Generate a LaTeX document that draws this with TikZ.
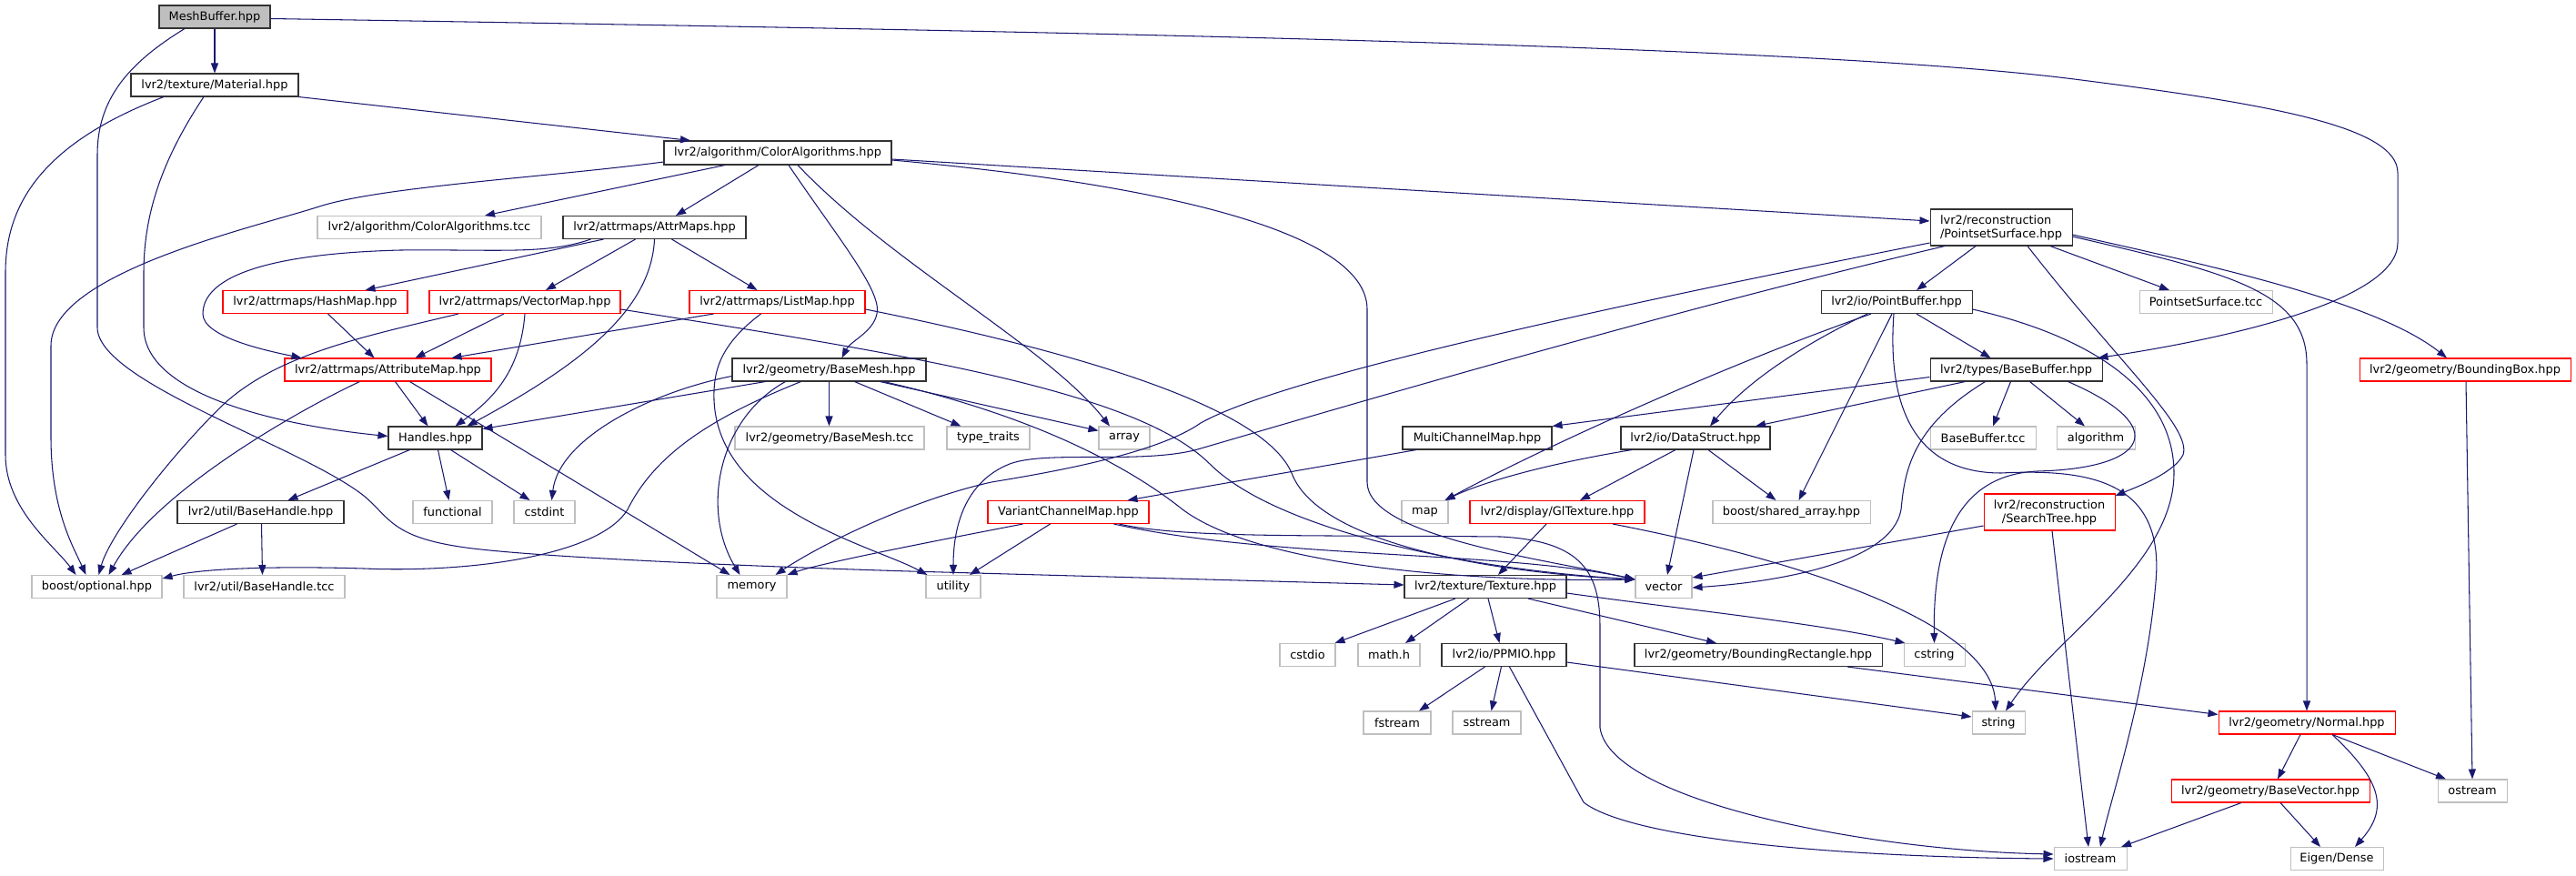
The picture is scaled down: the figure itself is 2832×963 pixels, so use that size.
\documentclass[tikz,border=0pt]{standalone}
\usepackage{fontspec}
\setmainfont{DejaVu Sans}
\usetikzlibrary{arrows.meta}
\definecolor{edgec}{HTML}{191970}
\definecolor{grayb}{HTML}{BFBFBF}
\definecolor{rootf}{HTML}{BFBFBF}
\definecolor{blackb}{HTML}{333333}
\begin{document}
\begin{tikzpicture}[x=1pt,y=-1pt,
 nbox/.style={draw, line width=1.05pt, inner sep=0pt, minimum height=25pt, font=\fontsize{12.9}{15}\selectfont, fill=white},
 nblack/.style={nbox, draw=blackb},
 ngray/.style={nbox, draw=grayb},
 nred/.style={nbox, draw=red},
 nroot/.style={nbox, draw=blackb, fill=rootf},
 dep/.style={draw=edgec, line width=1.05pt, -{Triangle[length=11pt,width=8pt]}}]
\fill[white] (0,0) rectangle (2832,963);
\useasboundingbox (0,0) rectangle (2832,963);
% nodes
\node[nroot, minimum width=122pt] (mb) at (236,18.5) {MeshBuffer.hpp};
\node[nblack, minimum width=184pt] (mat) at (236,93.5) {lvr2/texture/Material.hpp};
\node[nblack, minimum width=250pt, minimum height=26pt] (ca) at (855,168) {lvr2/algorithm/ColorAlgorithms.hpp};
\node[ngray, minimum width=246pt] (catcc) at (472,250) {lvr2/algorithm/ColorAlgorithms.tcc};
\node[nblack, minimum width=201pt] (am) at (719.5,250) {lvr2/attrmaps/AttrMaps.hpp};
\node[nred, minimum width=203pt] (hm) at (346.5,332) {lvr2/attrmaps/HashMap.hpp};
\node[nred, minimum width=210pt] (vm) at (577,332) {lvr2/attrmaps/VectorMap.hpp};
\node[nred, minimum width=193pt] (lm) at (854.5,332) {lvr2/attrmaps/ListMap.hpp};
\node[nred, minimum width=227pt] (atm) at (426.5,406.5) {lvr2/attrmaps/AttributeMap.hpp};
\node[nblack, minimum width=213pt] (bm) at (911.5,406.5) {lvr2/geometry/BaseMesh.hpp};
\node[nblack, minimum width=103pt] (hd) at (478.5,481.5) {Handles.hpp};
\node[ngray, minimum width=208pt] (bmtcc) at (912,481.5) {lvr2/geometry/BaseMesh.tcc};
\node[ngray, minimum width=91pt] (tt) at (1086.5,481.5) {type\_traits};
\node[ngray, minimum width=56pt] (arr) at (1236,481.5) {array};
\node[nblack, minimum width=164pt] (mcm) at (1624,481.5) {MultiChannelMap.hpp};
\node[nblack, minimum width=164pt] (ds) at (1864,481.5) {lvr2/io/DataStruct.hpp};
\node[ngray, minimum width=116pt] (bbtcc) at (2180,481.5) {BaseBuffer.tcc};
\node[ngray, minimum width=86pt] (alg) at (2304,481.5) {algorithm};
\node[nblack, minimum width=183pt] (bh) at (286.5,563) {lvr2/util/BaseHandle.hpp};
\node[ngray, minimum width=87pt] (fn) at (497.5,563) {functional};
\node[ngray, minimum width=67pt] (csi) at (598.5,563) {cstdint};
\node[nred, minimum width=177pt] (vcm) at (1174.5,563) {VariantChannelMap.hpp};
\node[ngray, minimum width=51pt] (map) at (1566.5,563) {map};
\node[nred, minimum width=192pt] (glt) at (1712,563) {lvr2/display/GlTexture.hpp};
\node[ngray, minimum width=173pt] (sa) at (1969.5,563) {boost/shared\_array.hpp};
\node[nred, minimum width=144pt, minimum height=40pt, align=center] (st) at (2253,563) {lvr2/reconstruction\\/SearchTree.hpp};
\node[ngray, minimum width=143pt] (bo) at (106.5,645) {boost/optional.hpp};
\node[ngray, minimum width=177pt] (bhtcc) at (290.5,645) {lvr2/util/BaseHandle.tcc};
\node[ngray, minimum width=77pt] (mem) at (826.5,645) {memory};
\node[ngray, minimum width=60pt] (util) at (1048,645) {utility};
\node[nblack, minimum width=178pt] (tex) at (1633,645) {lvr2/texture/Texture.hpp};
\node[ngray, minimum width=62pt] (vec) at (1829,645) {vector};
\node[ngray, minimum width=61pt] (cstdio) at (1437.5,720) {cstdio};
\node[ngray, minimum width=68pt] (mathh) at (1527,720) {math.h};
\node[nblack, minimum width=137pt] (ppm) at (1653.5,720) {lvr2/io/PPMIO.hpp};
\node[nblack, minimum width=272pt] (br) at (1933,720) {lvr2/geometry/BoundingRectangle.hpp};
\node[ngray, minimum width=67pt] (cstr) at (2126.5,720) {cstring};
\node[ngray, minimum width=74pt] (fs) at (1536,794.5) {fstream};
\node[ngray, minimum width=75pt] (ss) at (1634.5,794.5) {sstream};
\node[ngray, minimum width=58pt] (str) at (2197,794.5) {string};
\node[nred, minimum width=194pt] (nrm) at (2536,794.5) {lvr2/geometry/Normal.hpp};
\node[nred, minimum width=218pt] (bv) at (2496,869.5) {lvr2/geometry/BaseVector.hpp};
\node[ngray, minimum width=76pt] (os) at (2718,869.5) {ostream};
\node[ngray, minimum width=80pt] (ios) at (2298,944) {iostream};
\node[ngray, minimum width=102pt] (eig) at (2569,944) {Eigen/Dense};
\node[nblack, minimum width=156pt, minimum height=40pt, align=left] (ps) at (2200,250) {lvr2/reconstruction\\/PointsetSurface.hpp};
\node[nblack, minimum width=166pt] (pb) at (2085,332) {lvr2/io/PointBuffer.hpp};
\node[ngray, minimum width=146pt] (pstcc) at (2425,332) {PointsetSurface.tcc};
\node[nblack, minimum width=189pt] (bb) at (2216.5,406.5) {lvr2/types/BaseBuffer.hpp};
\node[nred, minimum width=232pt] (bbox) at (2710,406.5) {lvr2/geometry/BoundingBox.hpp};
% edges
\draw[dep] (mb.south) -- (mat.north);
\draw[dep] ([yshift=-2pt]mb.east) .. controls (1200,35) and (2000,50) .. (2288,88) .. controls (2500,115) and (2636,140) .. (2636,190) -- (2636,267) .. controls (2636,330) and (2450,372) .. ([xshift=-5pt]bb.north east);
\draw[dep] ([xshift=-33pt]mb.south) .. controls (140,70) and (107,110) .. (107,170) -- (107,360) .. controls (107,420) and (330,490) .. (400,545) .. controls (430,570) and (430,592) .. (520,603) .. controls (620,615) and (900,625) .. (1000,628) -- ([yshift=2pt]tex.west);
\draw[dep] ([xshift=-56pt]mat.south) .. controls (40,160) and (6,230) .. (6,300) -- (6,500) .. controls (6,560) and (60,600) .. ([xshift=-23pt]bo.north);
\draw[dep] ([xshift=-12pt]mat.south) .. controls (175,180) and (158,240) .. (158,300) -- (158,360) .. controls (158,440) and (330,470) .. ([yshift=2pt]hd.west);
\draw[dep] (mat.south east) -- ([xshift=-96pt]ca.north);
\draw[dep] ([xshift=-58pt]ca.south) -- ([xshift=61pt]catcc.north);
\draw[dep] ([xshift=-21pt]ca.south) -- ([xshift=23.5pt]am.north);
\draw[dep] ([yshift=-10pt]ca.west) .. controls (600,195) and (420,205) .. (351,227) .. controls (280,250) and (56,300) .. (56,380) -- (56,480) .. controls (56,560) and (80,600) .. ([xshift=-12pt]bo.north);
\draw[dep] ([xshift=12pt]ca.south) .. controls (920,260) and (970,320) .. (964,345) .. controls (960,365) and (935,375) .. ([xshift=14pt]bm.north);
\draw[dep] ([xshift=22pt]ca.south) .. controls (980,290) and (1150,380) .. ([xshift=-16pt]arr.north);
\draw[dep] ([yshift=-8pt]ca.east) .. controls (1250,200) and (1503,250) .. (1503,340) -- (1503,530) .. controls (1503,590) and (1700,615) .. ([yshift=8pt]vec.west);
\draw[dep] ([yshift=-7pt]ca.east) -- ([yshift=7pt]ps.west);
\draw[dep] ([xshift=-56pt]am.south) -- ([xshift=55pt]hm.north);
\draw[dep] ([xshift=-21pt]am.south) -- ([xshift=23pt]vm.north);
\draw[dep] ([xshift=19pt]am.south) -- ([xshift=-22pt]lm.north);
\draw[dep] ([xshift=-70pt]am.south) .. controls (600,280) and (550,274) .. (440,275) .. controls (250,280) and (223,320) .. (223,345) .. controls (223,370) and (290,385) .. ([xshift=-95pt]atm.north);
\draw[dep] (am.south) .. controls (716,340) and (640,400) .. ([xshift=35pt]hd.north);
\draw[dep] ([xshift=14pt]hm.south) -- ([xshift=-15pt]atm.north);
\draw[dep] ([xshift=-23pt]vm.south) -- ([xshift=30pt]atm.north);
\draw[dep] (vm.south) .. controls (572,410) and (540,440) .. ([xshift=22pt]hd.north);
\draw[dep] ([xshift=-73pt]vm.south) .. controls (400,370) and (300,390) .. (240,450) .. controls (180,510) and (120,590) .. ([xshift=2pt]bo.north);
\draw[dep] ([yshift=-8pt]vm.east) .. controls (1000,390) and (1250,430) .. (1330,510) .. controls (1400,580) and (1600,625) .. ([yshift=8pt]vec.west);
\draw[dep] ([xshift=-70pt]lm.south) -- ([xshift=70pt]atm.north);
\draw[dep] ([xshift=-18pt]lm.south) .. controls (790,380) and (784,410) .. (785,440) .. controls (790,560) and (960,600) .. ([xshift=2pt]util.north west);
\draw[dep] ([yshift=-8pt]lm.east) .. controls (1200,390) and (1390,450) .. (1420,520) .. controls (1450,600) and (1650,630) .. ([yshift=8pt]vec.west);
\draw[dep] ([xshift=8pt]atm.south) -- ([xshift=-8pt]hd.north);
\draw[dep] ([xshift=-31pt]atm.south) .. controls (330,450) and (170,540) .. ([xshift=13pt]bo.north);
\draw[dep] ([xshift=24pt]atm.south) -- ([xshift=-24pt]mem.north);
\draw[dep] ([xshift=-28pt]hd.south) -- ([xshift=30pt]bh.north);
\draw[dep] ([xshift=3pt]hd.south) -- ([xshift=-4pt]fn.north);
\draw[dep] ([xshift=17pt]hd.south) -- ([xshift=-16pt]csi.north);
\draw[dep] ([xshift=-26pt]bh.south) -- ([xshift=27pt]bo.north);
\draw[dep] ([xshift=1pt]bh.south) -- ([xshift=-2pt]bhtcc.north);
\draw[dep] ([xshift=-70pt]bm.south) -- ([yshift=10pt]hd.east);
\draw[dep] ([yshift=-7pt]bm.west) .. controls (720,430) and (615,480) .. ([xshift=8pt]csi.north);
\draw[dep] (bm.south) -- (bm.south |- bmtcc.north);
\draw[dep] ([xshift=28pt]bm.south) -- ([xshift=-30pt]tt.north);
\draw[dep] ([xshift=56pt]bm.south) -- ([yshift=8pt]arr.west);
\draw[dep] ([xshift=-48pt]bm.south) .. controls (790,460) and (770,560) .. ([xshift=-13pt]mem.north);
\draw[dep] ([xshift=-31pt]bm.south) .. controls (780,460) and (720,500) .. (690,560) .. controls (660,610) and (520,630) .. (400,625) .. controls (300,622) and (220,625) .. ([yshift=9pt]bo.east);
\draw[dep] ([xshift=60pt]bm.south) .. controls (1150,460) and (1250,520) .. (1300,560) .. controls (1380,620) and (1600,640) .. ([yshift=8pt]vec.west);
\draw[dep] ([xshift=-50pt]vcm.south) .. controls (1000,600) and (900,620) .. (mem.north east);
\draw[dep] ([xshift=-20pt]vcm.south) -- ([xshift=18pt]util.north);
\draw[dep] ([xshift=50pt]vcm.south) .. controls (1400,615) and (1650,605) .. ([yshift=8pt]vec.west);
\draw[dep] ([xshift=56pt]vcm.south) .. controls (1300,592) and (1450,588) .. (1650,590) .. controls (1740,595) and (1759,630) .. (1759,690) -- (1759,800) .. controls (1770,880) and (2050,935) .. ([yshift=5pt]ios.west);
\draw[dep] ([xshift=-67pt]mcm.south) -- ([xshift=65pt]vcm.north);
\draw[dep] ([xshift=-70pt]ds.south) .. controls (1700,510) and (1630,530) .. ([xshift=22pt]map.north);
\draw[dep] ([xshift=-22pt]ds.south) -- ([xshift=25pt]glt.north);
\draw[dep] ([xshift=-2pt]ds.south) -- ([xshift=4pt]vec.north);
\draw[dep] ([xshift=14pt]ds.south) -- ([xshift=-17pt]sa.north);
\draw[dep] ([xshift=-12pt]glt.south) -- ([xshift=14pt]tex.north);
\draw[dep] ([xshift=61pt]glt.south) .. controls (2000,620) and (2190,690) .. ([xshift=-3pt]str.north);
\draw[dep] ([xshift=-33pt]tex.south) -- ([xshift=30pt]cstdio.north);
\draw[dep] ([xshift=-18pt]tex.south) -- ([xshift=18pt]mathh.north);
\draw[dep] ([xshift=3pt]tex.south) -- ([xshift=-5pt]ppm.north);
\draw[dep] ([xshift=47pt]tex.south) -- ([xshift=-46pt]br.north);
\draw[dep] ([yshift=-7pt]tex.east) .. controls (1850,670) and (2000,685) .. ([xshift=2pt]cstr.north west);
\draw[dep] ([xshift=-21pt]ppm.south) -- ([xshift=24pt]fs.north);
\draw[dep] ([xshift=-3pt]ppm.south) -- ([xshift=5pt]ss.north);
\draw[dep] ([yshift=-8pt]ppm.east) -- ([yshift=6.5pt]str.west);
\draw[dep] ([xshift=6pt]ppm.south) -- (1741,882) .. controls (1790,920) and (2000,942) .. (ios.west);
\draw[dep] ([xshift=98pt]br.south) -- ([yshift=9pt]nrm.west);
\draw[dep] ([xshift=-7pt]nrm.south) -- ([xshift=8pt]bv.north);
\draw[dep] ([xshift=28pt]nrm.south) -- ([xshift=-29pt]os.north);
\draw[dep] ([xshift=28pt]nrm.south) .. controls (2620,860) and (2625,890) .. ([xshift=20pt]eig.north);
\draw[dep] ([xshift=-32pt]bv.south) -- ([xshift=34pt]ios.north);
\draw[dep] ([xshift=11pt]bv.south) -- ([xshift=-18pt]eig.north);
\draw[dep] ([xshift=1pt]bbox.south) -- (os.north);
\draw[dep] ([xshift=-28pt]ps.south) -- ([xshift=22pt]pb.north);
\draw[dep] ([xshift=54pt]ps.south) -- ([xshift=-40pt]pstcc.north);
\draw[dep] ([yshift=-8pt]ps.east) .. controls (2420,290) and (2610,330) .. ([xshift=-20pt]bbox.north);
\draw[dep] ([yshift=-10pt]ps.east) .. controls (2450,300) and (2536,320) .. (2536,400) -- (nrm.north);
\draw[dep] ([xshift=29pt]ps.south) .. controls (2330,400) and (2410,470) .. (2400,500) .. controls (2390,520) and (2350,535) .. ([yshift=18pt]st.east);
\draw[dep] ([yshift=-17pt]ps.west) .. controls (1700,350) and (1400,420) .. (1320,465) .. controls (1270,500) and (1150,520) .. (1090,530) .. controls (1000,550) and (900,600) .. ([xshift=26pt]mem.north);
\draw[dep] ([xshift=-62pt]ps.south) .. controls (1800,350) and (1400,470) .. (1313,495) .. controls (1250,510) and (1150,495) .. (1110,510) .. controls (1060,530) and (1048,580) .. (util.north);
\draw[dep] ([xshift=22pt]pb.south) -- ([xshift=-28pt]bb.north);
\draw[dep] ([xshift=-32pt]pb.south) .. controls (1980,380) and (1920,420) .. ([xshift=16pt]ds.north);
\draw[dep] ([xshift=-28pt]pb.south) .. controls (1900,400) and (1700,490) .. ([xshift=22pt]map.north);
\draw[dep] ([xshift=-5pt]pb.south) -- ([xshift=8pt]sa.north);
\draw[dep] ([xshift=-3pt]pb.south) .. controls (2075,440) and (2100,520) .. (2200,520) .. controls (2300,515) and (2380,530) .. (2370,640) .. controls (2360,760) and (2320,880) .. ([xshift=11pt]ios.north);
\draw[dep] ([yshift=-8pt]pb.east) .. controls (2300,370) and (2390,430) .. (2390,520) .. controls (2390,620) and (2260,700) .. ([xshift=8pt]str.north);
\draw[dep] ([yshift=-8pt]bb.west) -- ([yshift=13pt]mcm.east);
\draw[dep] ([xshift=-56pt]bb.south) -- ([xshift=66pt]ds.north);
\draw[dep] ([xshift=-6pt]bb.south) -- ([xshift=11pt]bbtcc.north);
\draw[dep] ([xshift=15pt]bb.south) -- ([xshift=-12pt]alg.north);
\draw[dep] ([xshift=-34pt]bb.south) .. controls (2100,470) and (2094,520) .. (2090,560) .. controls (2080,620) and (1950,640) .. ([yshift=-1pt]vec.east);
\draw[dep] ([xshift=57pt]bb.south) .. controls (2390,470) and (2360,515) .. (2240,518) .. controls (2150,522) and (2125,600) .. (cstr.north);
\draw[dep] ([yshift=-15pt]st.west) -- ([yshift=10pt]vec.east);
\draw[dep] ([xshift=3pt]st.south) -- ([xshift=-2pt]ios.north);
\end{tikzpicture}
\end{document}
